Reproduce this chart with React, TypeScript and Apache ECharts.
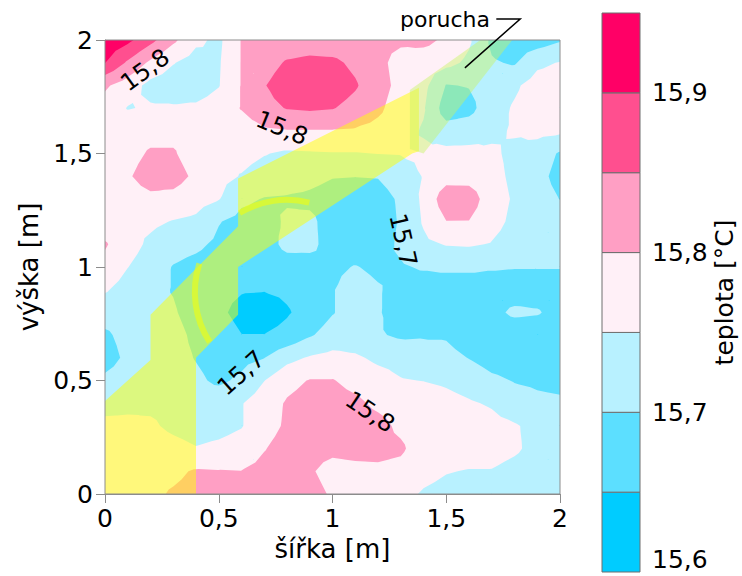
import React, { useEffect, useRef } from "react";
import * as echarts from "echarts";

// grid node positions [m]
const xCoords = [0, 0.1, 0.2, 0.3, 0.4, 0.5, 0.6, 0.7, 0.8, 0.9, 1.0, 1.1, 1.2, 1.3, 1.4, 1.5, 1.6, 1.7, 1.8, 1.9, 2.0];
const yCoords = [0, 0.1, 0.2, 0.3, 0.4, 0.5, 0.6, 0.7, 0.8, 0.9, 1.0, 1.1, 1.2, 1.3, 1.4, 1.5, 1.6, 1.7, 1.8, 1.9, 2.0];

// temperature [°C] read at each node, one row per height (y), x = 0 … 2 m
const t200 = [15.935, 15.9125, 15.865, 15.81, 15.76, 15.74, 15.8025, 15.815, 15.82, 15.8225, 15.82, 15.82, 15.815, 15.81, 15.815, 15.79, 15.7575, 15.69, 15.67, 15.675, 15.695];
const t190 = [15.901, 15.8425, 15.79, 15.7525, 15.73, 15.745, 15.8025, 15.83, 15.855, 15.8625, 15.86, 15.84, 15.815, 15.78, 15.77, 15.765, 15.74, 15.705, 15.695, 15.74, 15.7525];
const t180 = [15.8075, 15.775, 15.735, 15.725, 15.72, 15.7475, 15.8025, 15.8475, 15.875, 15.88, 15.875, 15.855, 15.82, 15.785, 15.765, 15.6975, 15.7025, 15.725, 15.7425, 15.77, 15.775];
const t170 = [15.78, 15.7475, 15.755, 15.755, 15.76, 15.775, 15.8025, 15.835, 15.8525, 15.8575, 15.8525, 15.835, 15.81, 15.775, 15.755, 15.675, 15.685, 15.73, 15.755, 15.775, 15.77];
const t160 = [15.78, 15.78, 15.785, 15.785, 15.78, 15.77, 15.775, 15.7925, 15.7975, 15.7975, 15.7975, 15.795, 15.785, 15.77, 15.745, 15.72, 15.725, 15.74, 15.755, 15.765, 15.76];
const t150 = [15.775, 15.785, 15.805, 15.805, 15.775, 15.76, 15.765, 15.7525, 15.7425, 15.745, 15.7475, 15.7475, 15.751, 15.7525, 15.76, 15.765, 15.765, 15.7575, 15.74, 15.725, 15.695];
const t140 = [15.775, 15.795, 15.82, 15.82, 15.79, 15.765, 15.7475, 15.73, 15.725, 15.715, 15.7025, 15.701, 15.7025, 15.725, 15.7525, 15.78, 15.78, 15.765, 15.74, 15.715, 15.685];
const t130 = [15.775, 15.78, 15.79, 15.785, 15.77, 15.7525, 15.71, 15.6975, 15.695, 15.69, 15.68, 15.675, 15.68, 15.7075, 15.76, 15.83, 15.8275, 15.77, 15.745, 15.72, 15.699];
const t120 = [15.77, 15.765, 15.76, 15.7475, 15.74, 15.7025, 15.685, 15.68, 15.7075, 15.71, 15.68, 15.67, 15.675, 15.705, 15.755, 15.799, 15.7985, 15.765, 15.74, 15.725, 15.72];
const t110 = [15.805, 15.77, 15.74, 15.72, 15.71, 15.69, 15.675, 15.675, 15.715, 15.7125, 15.68, 15.67, 15.675, 15.71, 15.74, 15.7525, 15.755, 15.7475, 15.73, 15.72, 15.715];
const t100 = [15.785, 15.751, 15.725, 15.6975, 15.685, 15.675, 15.67, 15.665, 15.675, 15.68, 15.69, 15.7025, 15.69, 15.695, 15.705, 15.71, 15.71, 15.705, 15.7025, 15.7025, 15.7025];
const t090 = [15.755, 15.73, 15.715, 15.6975, 15.675, 15.665, 15.654, 15.6525, 15.66, 15.675, 15.6975, 15.72, 15.705, 15.68, 15.675, 15.67, 15.67, 15.675, 15.675, 15.675, 15.675];
const t080 = [15.72, 15.72, 15.71, 15.705, 15.68, 15.66, 15.635, 15.625, 15.645, 15.67, 15.6975, 15.72, 15.705, 15.675, 15.67, 15.67, 15.675, 15.685, 15.71, 15.705, 15.68];
const t070 = [15.6925, 15.715, 15.72, 15.715, 15.69, 15.675, 15.651, 15.651, 15.665, 15.695, 15.72, 15.72, 15.705, 15.6925, 15.695, 15.695, 15.675, 15.67, 15.665, 15.665, 15.665];
const t060 = [15.68, 15.71, 15.72, 15.7175, 15.6975, 15.68, 15.685, 15.699, 15.735, 15.755, 15.765, 15.7575, 15.74, 15.735, 15.725, 15.715, 15.6985, 15.68, 15.675, 15.67, 15.67];
const t050 = [15.71, 15.725, 15.73, 15.725, 15.71, 15.69, 15.71, 15.749, 15.785, 15.8025, 15.8025, 15.785, 15.77, 15.7525, 15.749, 15.7425, 15.73, 15.71, 15.6975, 15.6925, 15.6875];
const t040 = [15.73, 15.735, 15.74, 15.735, 15.725, 15.735, 15.7475, 15.775, 15.805, 15.82, 15.82, 15.81, 15.79, 15.78, 15.775, 15.765, 15.755, 15.745, 15.72, 15.71, 15.7075];
const t030 = [15.765, 15.765, 15.7575, 15.74, 15.73, 15.735, 15.7475, 15.78, 15.8075, 15.82, 15.825, 15.825, 15.815, 15.79, 15.775, 15.775, 15.775, 15.765, 15.755, 15.735, 15.725];
const t020 = [15.775, 15.78, 15.775, 15.765, 15.7525, 15.76, 15.77, 15.7975, 15.82, 15.815, 15.81, 15.815, 15.815, 15.8075, 15.775, 15.775, 15.7725, 15.77, 15.7575, 15.735, 15.725];
const t010 = [15.78, 15.78, 15.785, 15.79, 15.805, 15.8025, 15.801, 15.815, 15.83, 15.805, 15.785, 15.7875, 15.79, 15.785, 15.765, 15.7525, 15.7475, 15.7475, 15.735, 15.725, 15.72];
const t000 = [15.775, 15.78, 15.79, 15.805, 15.815, 15.815, 15.815, 15.825, 15.83, 15.815, 15.795, 15.78, 15.775, 15.765, 15.745, 15.735, 15.73, 15.73, 15.725, 15.72, 15.72];

// colour levels [°C]
const levelEdges = [15.6, 15.65, 15.7, 15.75, 15.8, 15.85, 15.9, 15.95];
const levelColors = ["#00ccff", "#5cdfff", "#b8f1ff", "#fff0f7", "#ff9fc4", "#ff4f8f", "#ff0066"];
const colorbarTicks = [15.6, 15.7, 15.8, 15.9];

// fault ("porucha") outline, in metres
const faultX = [0, 0.4, 0.4, 0.585, 0.585, 1.35, 1.38, 1.38, 0.585, 0.585, 0.2, 0.2, 0];
const faultY = [0, 0, 0.6, 0.79, 1.0, 1.5, 1.51, 1.79, 1.39, 1.18, 0.79, 0.59, 0.41];
const faultBandX = [1.34, 1.34, 1.65, 1.79, 1.4];
const faultBandY = [1.52, 1.78, 2.0, 2.0, 1.5];
const ringCenter = [0.8, 0.89];
const ringRadius = 0.405;
const ringArcsDeg = [[76, 121], [162, 213]];

// contour labels
const contourLabelText = ["15,8", "15,8", "15,7", "15,7", "15,8"];
const contourLabelX = [0.176, 0.778, 1.31, 0.598, 1.165];
const contourLabelY = [1.868, 1.612, 1.119, 0.533, 0.361];
const contourLabelAngle = [36, -22, -77, 42, -34];

const faultLabel = "porucha";
const faultLabelPos = [1.692, 2.0925];
const faultLeaderX = [1.72, 1.825, 1.582];
const faultLeaderY = [2.0925, 2.0925, 1.877];

const FONT = "DejaVu Sans";
const rows = [t000, t010, t020, t030, t040, t050, t060, t070, t080, t090, t100, t110, t120, t130, t140, t150, t160, t170, t180, t190, t200];

type V = { p: number[]; v: number };

function clipAbove(poly: V[], t: number): V[] {
  const out: V[] = [];
  for (let n = 0; n < poly.length; n++) {
    const a = poly[n];
    const b = poly[(n + 1) % poly.length];
    const ain = a.v >= t;
    const bin = b.v >= t;
    if (ain) out.push(a);
    if (ain !== bin) {
      const f = (t - a.v) / (b.v - a.v);
      out.push({ p: [a.p[0] + f * (b.p[0] - a.p[0]), a.p[1] + f * (b.p[1] - a.p[1])], v: t });
    }
  }
  return out;
}

function toPath(poly: V[]) {
  return poly.map((q, n) => (n === 0 ? "M" : "L") + q.p[0].toFixed(2) + " " + q.p[1].toFixed(2)).join(" ") + " Z";
}

// one compound path per colour level: no seams between the pieces of a level
function renderField(_params: any, api: any) {
  const nodeP: number[][][] = yCoords.map((y) => xCoords.map((x) => api.coord([x, y])));
  const layers: string[][] = levelColors.map(() => []);
  for (let j = 0; j < yCoords.length - 1; j++) {
    for (let i = 0; i < xCoords.length - 1; i++) {
      const c00: V = { p: nodeP[j][i], v: rows[j][i] };
      const c10: V = { p: nodeP[j][i + 1], v: rows[j][i + 1] };
      const c01: V = { p: nodeP[j + 1][i], v: rows[j + 1][i] };
      const c11: V = { p: nodeP[j + 1][i + 1], v: rows[j + 1][i + 1] };
      const cc: V = {
        p: [(c00.p[0] + c11.p[0]) / 2, (c00.p[1] + c11.p[1]) / 2],
        v: (c00.v + c10.v + c01.v + c11.v) / 4,
      };
      const tris = [[c00, c10, cc], [c10, c11, cc], [c11, c01, cc], [c01, c00, cc]];
      for (const tri of tris) {
        const mn = Math.min(tri[0].v, tri[1].v, tri[2].v);
        const mx = Math.max(tri[0].v, tri[1].v, tri[2].v);
        for (let k = 1; k < levelColors.length; k++) {
          const t = levelEdges[k];
          if (mx < t) break;
          const poly = mn >= t ? tri : clipAbove(tri, t);
          if (poly.length >= 3) layers[k].push(toPath(poly));
        }
      }
    }
  }
  const a = nodeP[yCoords.length - 1][0];
  const b = nodeP[0][xCoords.length - 1];
  const children: any[] = [
    { type: "rect", shape: { x: a[0], y: a[1], width: b[0] - a[0], height: b[1] - a[1] }, style: { fill: levelColors[0] } },
  ];
  for (let k = 1; k < levelColors.length; k++) {
    if (layers[k].length) children.push({ type: "path", shape: { pathData: layers[k].join(" ") }, style: { fill: levelColors[k] } });
  }
  return { type: "group", children };
}

const commaFmt = (v: number) => String(Math.round(v * 10) / 10).replace(".", ",");
const axisGray = "#8c8c8c";

const option: any = {
  animation: false,
  backgroundColor: "#ffffff",
  grid: [
    { left: 105, top: 40, width: 455, height: 454, show: true, borderColor: axisGray, borderWidth: 1, backgroundColor: "transparent", z: 3 },
    { left: 602, top: 13, width: 38, height: 559 },
  ],
  xAxis: [
    {
      gridIndex: 0, type: "value", min: 0, max: 2, interval: 0.5,
      name: "šířka [m]", nameLocation: "middle", nameGap: 39,
      nameTextStyle: { fontFamily: FONT, fontSize: 26, color: "#000" },
      axisLine: { show: true, lineStyle: { color: axisGray, width: 1 } },
      axisTick: { show: true, length: 9, lineStyle: { color: axisGray } },
      axisLabel: { formatter: commaFmt, fontFamily: FONT, fontSize: 25, color: "#000", margin: 12 },
      splitLine: { show: false },
    },
    { gridIndex: 1, type: "value", min: 0, max: 1, show: false },
  ],
  yAxis: [
    {
      gridIndex: 0, type: "value", min: 0, max: 2, interval: 0.5,
      name: "výška [m]", nameLocation: "middle", nameGap: 58, nameRotate: 90,
      nameTextStyle: { fontFamily: FONT, fontSize: 26, color: "#000" },
      axisLine: { show: true, lineStyle: { color: axisGray, width: 1 } },
      axisTick: { show: true, length: 9, lineStyle: { color: axisGray } },
      axisLabel: { formatter: commaFmt, fontFamily: FONT, fontSize: 25, color: "#000", margin: 12 },
      splitLine: { show: false },
    },
    {
      gridIndex: 1, type: "value", min: levelEdges[0], max: levelEdges[levelEdges.length - 1], interval: 0.1,
      position: "right",
      name: "teplota [°C]", nameLocation: "middle", nameGap: 60, nameRotate: 90,
      nameTextStyle: { fontFamily: FONT, fontSize: 25, color: "#000" },
      axisLine: { show: false }, axisTick: { show: false }, splitLine: { show: false },
      axisLabel: {
        fontFamily: FONT, fontSize: 25, color: "#000", margin: 12, showMaxLabel: false,
        verticalAlignMinLabel: "bottom",
        formatter: (v: number) => (colorbarTicks.some((t) => Math.abs(t - v) < 1e-6) ? v.toFixed(1).replace(".", ",") : ""),
      },
    },
  ],
  series: [
    {
      type: "custom", name: "teplota", xAxisIndex: 0, yAxisIndex: 0, silent: true, clip: true, z: 1,
      data: [[1, 1]], encode: { x: 0, y: 1 }, renderItem: renderField,
    },
    {
      type: "custom", name: "porucha", xAxisIndex: 0, yAxisIndex: 0, silent: true, z: 2,
      data: [[1, 1]], encode: { x: 0, y: 1 },
      renderItem: (_p: any, api: any) => ({
        type: "group",
        children: [
          { type: "polygon", shape: { points: faultX.map((x, n) => api.coord([x, faultY[n]])) }, style: { fill: "rgba(255,255,0,0.5)" } },
          { type: "polygon", shape: { points: faultBandX.map((x, n) => api.coord([x, faultBandY[n]])) }, style: { fill: "rgba(200,245,100,0.45)" } },
          ...ringArcsDeg.map((a) => {
            const c = api.coord(ringCenter);
            const r = api.size([ringRadius, 0])[0];
            return {
              type: "arc",
              shape: { cx: c[0], cy: c[1], r, startAngle: (-a[0] * Math.PI) / 180, endAngle: (-a[1] * Math.PI) / 180, clockwise: false },
              style: { stroke: "rgba(250,255,0,0.55)", lineWidth: 6, fill: "none" },
            };
          }),
        ],
      }),
    },
    {
      type: "custom", name: "labels", xAxisIndex: 0, yAxisIndex: 0, silent: true, z: 5,
      data: contourLabelText.map((_t, n) => [contourLabelX[n], contourLabelY[n], n]),
      encode: { x: 0, y: 1 },
      renderItem: (_p: any, api: any) => {
        const n = api.value(2);
        const p = api.coord([contourLabelX[n], contourLabelY[n]]);
        return {
          type: "text", x: p[0], y: p[1], rotation: (contourLabelAngle[n] * Math.PI) / 180,
          style: { text: contourLabelText[n], fontFamily: FONT, fontSize: 24, fill: "#000", align: "center", verticalAlign: "middle" },
        };
      },
    },
    {
      type: "custom", name: "annotation", xAxisIndex: 0, yAxisIndex: 0, silent: true, z: 6, clip: false,
      data: [[faultLabelPos[0], faultLabelPos[1]]], encode: { x: 0, y: 1 },
      renderItem: (_p: any, api: any) => {
        const p = api.coord(faultLabelPos);
        return {
          type: "group",
          children: [
            { type: "text", x: p[0], y: p[1], style: { text: faultLabel, fontFamily: FONT, fontSize: 22, fill: "#000", align: "right", verticalAlign: "middle" } },
            { type: "polyline", shape: { points: faultLeaderX.map((x, n) => api.coord([x, faultLeaderY[n]])) }, style: { stroke: "#000", lineWidth: 1.5, fill: "none" } },
          ],
        };
      },
    },
    {
      type: "custom", name: "colorbar", xAxisIndex: 1, yAxisIndex: 1, silent: true, z: 2,
      data: levelColors.map((_c, k) => [0.5, (levelEdges[k] + levelEdges[k + 1]) / 2, k]),
      encode: { x: 0, y: 1 },
      renderItem: (_p: any, api: any) => {
        const k = api.value(2);
        const a = api.coord([0, levelEdges[k + 1]]);
        const b = api.coord([1, levelEdges[k]]);
        return {
          type: "rect",
          shape: { x: a[0], y: a[1], width: b[0] - a[0], height: b[1] - a[1] },
          style: { fill: levelColors[k], stroke: "#6e6e6e", lineWidth: 1 },
        };
      },
    },
  ],
};

export default function App() {
  const ref = useRef<HTMLDivElement>(null);
  useEffect(() => {
    const chart = echarts.init(ref.current as HTMLDivElement, null, { renderer: "svg" });
    chart.setOption(option);
    return () => chart.dispose();
  }, []);
  return (
    <div
      ref={ref}
      style={{ position: "absolute", left: 0, top: 0, width: 742, height: 576, background: "#ffffff" }}
    />
  );
}
